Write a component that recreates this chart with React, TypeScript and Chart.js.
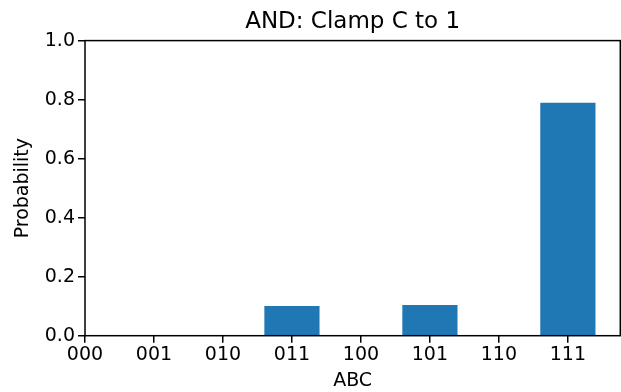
import React, { useEffect, useRef } from "react";
import { Chart, registerables } from "chart.js";

Chart.register(...registerables);

const titleText = "AND: Clamp C to 1";
const categories = ["000", "001", "010", "011", "100", "101", "110", "111"];
const probabilities = [0, 0, 0, 0.101, 0, 0.104, 0, 0.789];
const yTicks = [0, 0.2, 0.4, 0.6, 0.8, 1.0];
const xLabel = "ABC";
const yLabel = "Probability";

const FONT = "'DejaVu Sans', sans-serif";

const frame = {
  id: "frame",
  afterDraw(chart: any) {
    const { ctx, chartArea } = chart;
    ctx.save();
    ctx.strokeStyle = "#000";
    ctx.lineWidth = 1.5;
    ctx.strokeRect(chartArea.left, chartArea.top, chartArea.right - chartArea.left, chartArea.bottom - chartArea.top);
    ctx.restore();
  },
};

export default function App() {
  const ref = useRef<HTMLCanvasElement>(null);

  useEffect(() => {
    if (!ref.current) return;
    const chart = new Chart(ref.current, {
      type: "bar",
      data: {
        datasets: [
          {
            data: categories.map((_, i) => ({ x: i, y: probabilities[i] })),
            backgroundColor: "#1f77b4",
            borderWidth: 0,
            barPercentage: 0.8,
            categoryPercentage: 1.0,
          },
        ],
      },
      options: {
        animation: false,
        responsive: false,
        layout: { padding: { left: 0, right: 0.7, top: 0, bottom: 0 } },
        plugins: {
          legend: { display: false },
          tooltip: { enabled: false },
          title: {
            display: true,
            fullSize: false,
            text: titleText,
            color: "#000",
            font: { family: FONT, size: 23, weight: "normal", lineHeight: 1.2 },
            padding: { top: 8, bottom: 5 },
          },
        },
        scales: {
          x: {
            type: "linear",
            min: 0,
            max: 7.76,
            offset: false,
            afterFit: (s: any) => {
              s.height = 56.3;
            },
            afterBuildTicks: (s: any) => {
              s.ticks = categories.map((_, i) => ({ value: i }));
            },
            border: { display: false },
            grid: {
              offset: false,
              drawOnChartArea: false,
              drawTicks: true,
              tickLength: 7,
              color: "#000",
              lineWidth: 1.5,
            },
            ticks: {
              autoSkip: false,
              maxRotation: 0,
              padding: 1,
              color: "#000",
              font: { family: FONT, size: 19 },
              callback: (v: any) => categories[Math.round(Number(v))] ?? "",
            },
            title: {
              display: true,
              text: xLabel,
              color: "#000",
              font: { family: FONT, size: 19 },
              padding: { top: 0, bottom: 0 },
            },
          },
          y: {
            type: "linear",
            min: 0,
            max: 1,
            afterFit: (s: any) => {
              s.width = 85;
            },
            afterBuildTicks: (s: any) => {
              s.ticks = yTicks.map((v) => ({ value: v }));
            },
            border: { display: false },
            grid: {
              drawOnChartArea: false,
              drawTicks: true,
              tickLength: 7,
              color: "#000",
              lineWidth: 1.5,
            },
            ticks: {
              padding: 3,
              color: "#000",
              font: { family: FONT, size: 19 },
              callback: (v: any) => Number(v).toFixed(1),
            },
            title: {
              display: true,
              text: yLabel,
              color: "#000",
              font: { family: FONT, size: 19 },
              padding: { top: 12, bottom: 0 },
            },
          },
        },
      },
      plugins: [frame],
    } as any);
    return () => chart.destroy();
  }, []);

  return (
    <div style={{ position: "absolute", left: 0, top: 0, width: 621, height: 392, background: "#fff" }}>
      <canvas ref={ref} width={621} height={392} style={{ display: "block" }} />
    </div>
  );
}
